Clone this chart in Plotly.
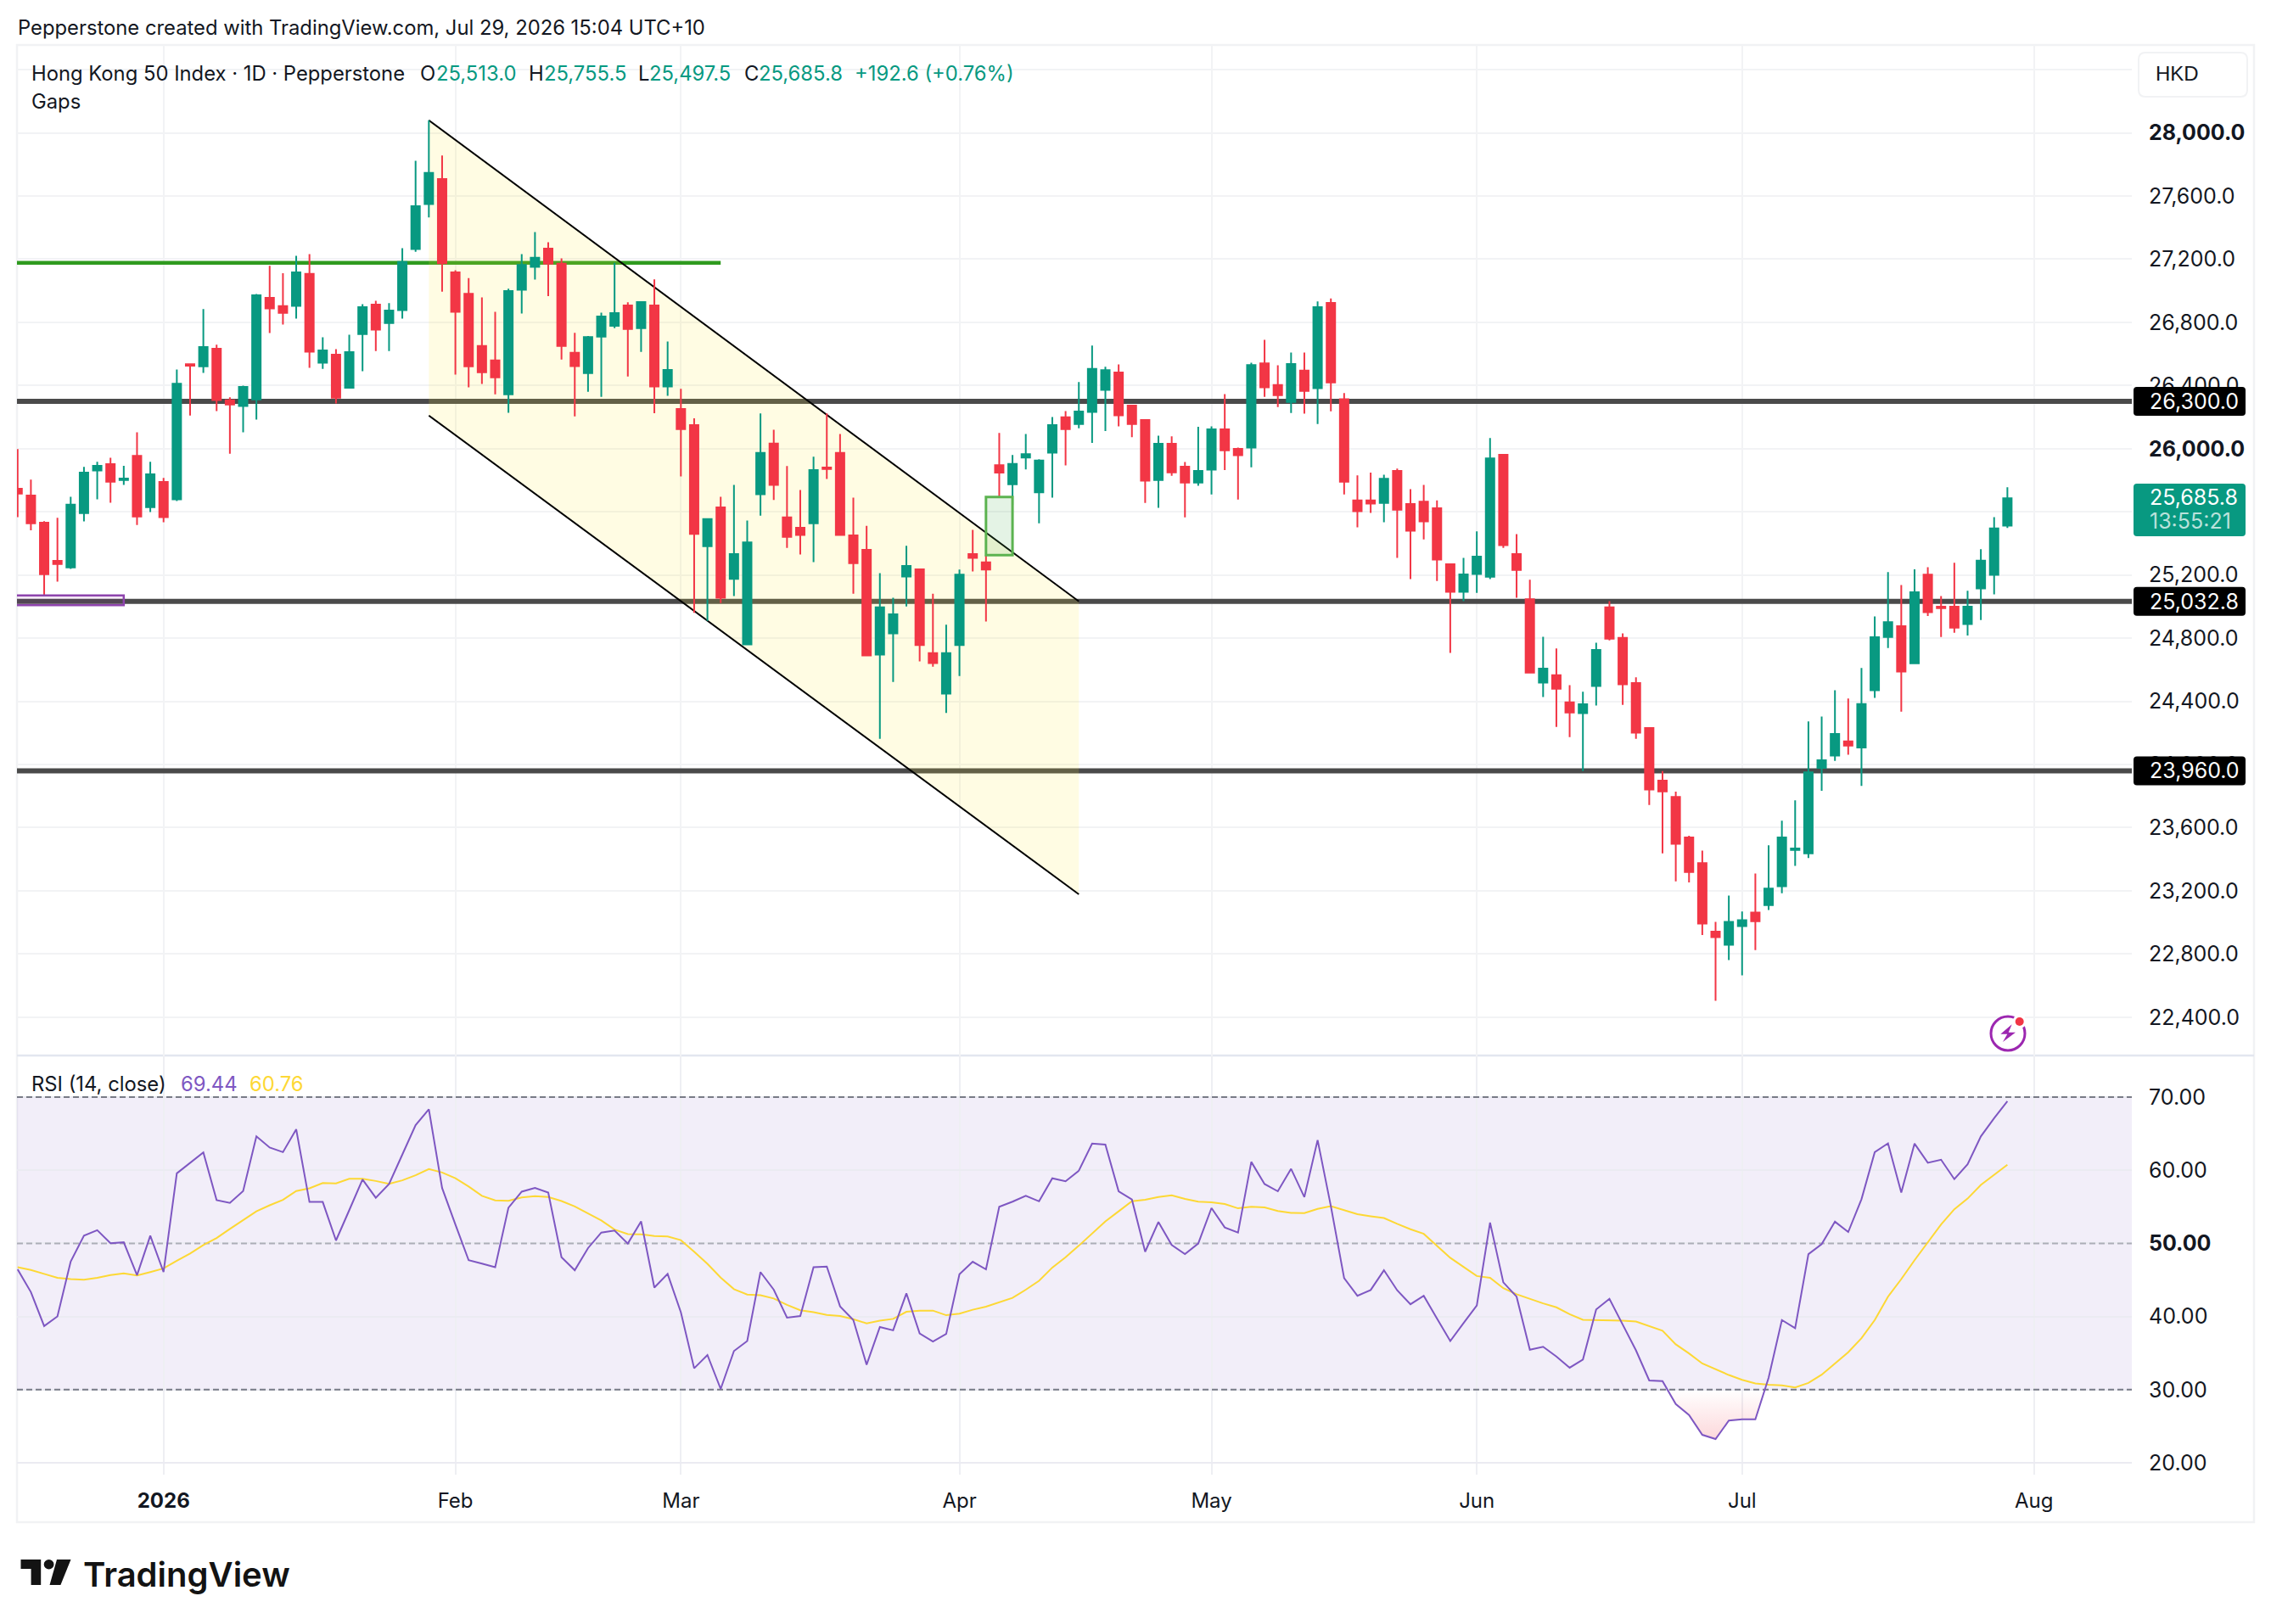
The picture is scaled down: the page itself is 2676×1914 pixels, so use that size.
import plotly.graph_objects as go

# Daily Hong Kong 50 session data, oldest first
opens = [25747,25704,25532,25290,25248,25592,25862,25902,25802,25955,25630,25789,25679,26535,26522,26633,26306,26270,26312,26956,
         26903,26905,27107,26544,26595,26386,26726,26913,26796,26877,27264,27549,27708,27117,26981,26650,26559,26344,27007,27151,
         27267,27172,26607,26479,26710,26778,26907,26764,26907,26394,26251,26150,25383,25628,25175,24760,25712,26032,25565,25499,
         25528,25881,25973,25451,25359,24696,24830,25190,25236,24705,24449,24756,25332,25280,25896,25775,25944,25723,25975,26199,
         26156,26233,26373,26483,26273,26182,25801,26031,25886,25786,25867,26122,25999,26007,26541,26403,26296,26494,26383,26923,
         26313,25672,25672,25657,25859,25650,25665,25623,25268,25094,25206,25189,25961,25332,25047,24518,24565,24393,24325,24497,
         24995,24802,24516,24231,23898,23795,23538,23376,22942,22858,22977,23062,23110,23229,23459,23437,23979,24056,24146,24108,
         24470,24808,24876,24641,25203,24999,24999,24889,25115,25201,25513]
highs = [25998,25804,25541,25562,25696,25885,25917,25942,25891,26104,25917,25815,26501,26535,26884,26658,26325,26399,26979,27158,
         27111,27221,27232,26705,26631,26722,26915,26937,26922,27270,27823,28080,27857,27130,27081,26958,26867,27013,27232,27372,
         27308,27205,26734,26714,26861,27177,26927,26929,27072,26679,26379,26192,25558,25696,25771,25545,26223,26120,25890,25738,
         25949,26223,26093,25690,25512,25212,25056,25385,25236,25082,24885,25234,25486,25326,26100,25960,26093,25933,26201,26238,
         26422,26653,26519,26534,26277,26186,26082,26078,25916,26139,26141,26345,26007,26545,26689,26528,26609,26609,26932,26951,
         26352,25831,25848,25835,25874,25744,25771,25672,25268,25308,25476,26067,25961,25459,25170,24809,24735,24503,24461,24771,
         25034,24830,24552,24236,23959,23828,23549,23455,23003,23170,23069,23310,23488,23644,23773,24273,24304,24470,24418,24611,
         24938,25218,25137,25236,25249,25067,25277,25100,25363,25567,25755.5]
lows = [25566,25483,25073,25158,25239,25539,25679,25658,25770,25517,25598,25534,25668,26210,26480,26238,25968,26104,26185,26733,
        26786,26824,26512,26505,26287,26380,26491,26618,26618,26824,27247,27464,26994,26469,26389,26410,26344,26227,26856,27071,
        26966,26565,26205,26361,26328,26764,26457,26613,26225,26335,25824,24960,24909,25023,25067,24760,25576,25675,25372,25330,
        25282,25808,25453,25082,24690,24163,24523,25001,24653,24620,24326,24560,25223,24905,25692,25644,25868,25528,25690,25894,
        26129,26037,26112,26141,26073,25657,25625,25829,25565,25765,25710,25865,25678,25882,26328,26264,26226,26222,26156,26237,
        25710,25502,25593,25534,25308,25174,25425,25162,24707,25034,25087,25174,25372,25056,24582,24427,24238,24174,23959,24374,
        24786,24378,24163,23744,23437,23260,23253,22920,22503,22762,22665,22825,23078,23185,23358,23407,23834,24023,24062,23865,
        24422,24738,24334,24641,24940,24808,24834,24817,24915,25078,25497.5]
closes = [25715,25528,25205,25269,25645,25849,25891,25791,25811,25571,25838,25566,26412,26525,26644,26308,26280,26391,26971,26888,
          26860,27117,26614,26622,26323,26612,26896,26754,26875,27183,27536,27746,27175,26867,26522,26484,26452,26998,27164,27209,
          27172,26650,26523,26707,26837,26859,26758,26929,26394,26499,26124,25460,25554,25056,25332,25407,25973,25771,25442,25453,
          25865,25872,25453,25275,24690,24995,24951,25258,24756,24642,24705,25203,25308,25234,25848,25903,25966,25925,26150,26124,
          26235,26505,26498,26211,26156,25797,26031,25850,25786,25859,26122,25990,25958,26530,26388,26339,26536,26366,26896,26420,
          25791,25604,25653,25810,25614,25480,25540,25298,25094,25204,25317,25939,25389,25232,24582,24607,24480,24329,24382,24725,
          24797,24508,24201,23841,23830,23497,23319,22992,22907,23003,23014,23007,23214,23538,23468,23950,24027,24194,24119,24383,
          24806,24902,24589,25091,24964,24990,24867,24999,25291,25495,25685.8]

rsi = [46.45,43.34,38.69,40.02,47.53,51.06,51.81,50.02,50.15,45.66,51.06,46.08,59.58,60.99,62.44,55.92,55.55,57.17,64.64,63.11,
       62.48,65.6,55.67,55.67,50.4,54.55,58.75,56.25,58.12,62.15,66.18,68.34,57.58,52.6,47.7,47.24,46.74,54.88,57.08,57.58,
       56.96,48.11,46.33,49.36,51.48,51.77,49.98,53.01,43.96,45.83,40.56,32.92,34.74,30.09,35.28,36.65,46.08,43.67,39.85,40.06,
       46.74,46.83,41.39,39.52,33.41,38.56,38.11,43.17,37.69,36.57,37.61,45.79,47.49,46.45,55.01,55.71,56.5,55.76,58.91,58.5,
       59.95,63.65,63.52,57.13,56,48.86,52.93,49.78,48.53,49.98,54.84,52.18,51.48,61.15,58.12,57.13,60.2,56.34,64.14,55.09,
       45.25,42.84,43.63,46.33,43.59,41.68,42.84,39.73,36.65,39.1,41.51,52.85,44.67,42.72,35.45,35.86,34.54,33,34.12,40.97,
       42.43,38.9,35.37,31.25,31.17,28.02,26.52,23.82,23.24,25.77,25.94,25.94,31.63,39.52,38.4,48.53,49.9,52.97,51.56,56.05,
       62.48,63.69,56.96,63.65,61.03,61.45,58.79,60.82,64.64,67.13,69.44]
rsi_ma = [46.74,46.37,45.83,45.29,45.12,45.04,45.29,45.66,45.91,45.62,46.08,46.58,47.62,48.61,49.78,50.73,51.98,53.22,54.39,55.22,
          55.96,57.17,57.54,58.25,58.21,58.83,58.83,58.54,58.16,58.62,59.33,60.16,59.7,58.91,57.79,56.5,55.88,55.84,56.3,56.46,
          56.34,55.8,55.05,54.1,53.14,51.89,51.27,51.23,51.02,50.94,50.44,48.86,47.2,45.33,43.75,43.01,42.92,42.47,41.59,40.85,
          40.6,40.22,40.06,39.64,39.06,39.44,39.68,40.64,40.81,40.81,40.18,40.39,40.93,41.35,41.93,42.55,43.67,44.88,46.7,48.11,
          49.69,51.35,53.01,54.39,55.76,55.96,56.34,56.59,56.09,55.71,55.63,55.38,54.8,55.01,54.93,54.43,54.18,54.14,54.72,55.09,
          54.55,54.01,53.72,53.47,52.68,51.94,51.31,49.69,48.03,46.79,45.54,45.29,43.88,43.05,42.38,41.8,41.26,40.31,39.56,39.52,
          39.52,39.44,39.31,38.73,38.06,36.2,34.95,33.58,32.75,32,31.34,30.84,30.67,30.59,30.3,30.92,32.04,33.62,35.12,37.03,
          39.52,42.72,45.12,47.7,50.11,52.6,54.68,56.13,58,59.33,60.76]
sessions = list(range(len(closes)))

# Oversold stretch of the RSI, closed along the 30 level
oversold_x = [124.37,125,126,127,128,129,130,131,131.71]
oversold_y = [30,28.02,26.52,23.82,23.24,25.77,25.94,25.94,30]

month_ticks = [11,33,50,71,90,110,130,152]
month_labels = ["<b>2026</b>","Feb","Mar","Apr","May","Jun","Jul","Aug"]
price_ticks = [28400,28000,27600,27200,26800,26400,26000,25600,25200,24800,24400,24000,23600,23200,22800,22400]
price_labels = ["","<b>28,000.0</b>","27,600.0","27,200.0","26,800.0","26,400.0","<b>26,000.0</b>","",
                "25,200.0","24,800.0","24,400.0","24,000.0","23,600.0","23,200.0","22,800.0","22,400.0"]
rsi_ticks = [70,60,50,40,30,20]
rsi_labels = ["70.00","60.00","<b>50.00</b>","40.00","30.00","20.00"]

# Drawn levels and objects, in price and session units
levels = [26300.0,25032.8,23960.0]
resistance_price = 27177
resistance_end = 53
channel_x = [31,80]
channel_upper = [28080,25033]
channel_lower = [26210,23178]
gap_box = dict(x0=73,x1=75,y0=25326,y1=25694)
purple_box = dict(x0=-1,x1=8,y0=25009,y1=25071)

W, H = 2676, 1914
UP, DOWN = "#089981", "#f23645"
INK = "#131722"
FONT = "Inter"
PLOT_L, PLOT_R, FRAME_R = 20, 2512, 2656
MAIN_T, MAIN_B, RSI_B, FRAME_B = 53, 1244, 1738, 1794
X_RANGE = [-0.05, 159.38]
PRICE_RANGE = [22157, 28556.7]
RSI_RANGE = [18.37, 75.7]
AXIS_SIZE = 25


def px(x):
    return x / W


def py(y):
    return 1 - y / H


def price_y(price):
    """Pixel row of a price on the main pane."""
    span = PRICE_RANGE[1] - PRICE_RANGE[0]
    return MAIN_B - (price - PRICE_RANGE[0]) * (MAIN_B - MAIN_T) / span


fig = go.Figure()
fig.add_trace(go.Candlestick(
    x=sessions, open=opens, high=highs, low=lows, close=closes, xaxis="x", yaxis="y",
    increasing=dict(line=dict(color=UP, width=2), fillcolor=UP),
    decreasing=dict(line=dict(color=DOWN, width=2), fillcolor=DOWN),
    whiskerwidth=0, showlegend=False,
))
fig.add_trace(go.Scatter(
    x=oversold_x, y=oversold_y, xaxis="x2", yaxis="y2", mode="lines", line=dict(width=0),
    fill="toself", showlegend=False, hoverinfo="skip",
    fillgradient=dict(type="vertical", start=30, stop=23,
                      colorscale=[[0, "rgba(242,54,69,0)"], [1, "rgba(242,54,69,0.2)"]]),
))
fig.add_trace(go.Scatter(x=sessions, y=rsi_ma, xaxis="x2", yaxis="y2", mode="lines",
                         line=dict(color="#fdd835", width=2), showlegend=False))
fig.add_trace(go.Scatter(x=sessions, y=rsi, xaxis="x2", yaxis="y2", mode="lines",
                         line=dict(color="#7e57c2", width=2), showlegend=False))

shapes = []
# RSI band and its dashed bounds
shapes.append(dict(type="rect", xref="x2", yref="y2", x0=X_RANGE[0], x1=X_RANGE[1], y0=30, y1=70, layer="below",
                   fillcolor="rgba(126,87,194,0.1)", line_width=0))
for level, color in [(70, "#787b86"), (50, "rgba(120,123,134,0.55)"), (30, "#787b86")]:
    shapes.append(dict(type="line", xref="x2", yref="y2", x0=X_RANGE[0], x1=X_RANGE[1], y0=level, y1=level,
                       layer="between", line=dict(color=color, width=2, dash="7px,4px")))
# Horizontal levels and the resistance line
for level in levels:
    shapes.append(dict(type="line", xref="x", yref="y", x0=X_RANGE[0], x1=X_RANGE[1], y0=level, y1=level,
                       layer="between", line=dict(color="#4a4a4a", width=6)))
shapes.append(dict(type="line", xref="x", yref="y", x0=-1, x1=resistance_end, y0=resistance_price, y1=resistance_price,
                   layer="between", line=dict(color="#2f9a1f", width=4.5)))
# Falling channel
shapes.append(dict(type="path", xref="x", yref="y", layer="between", line_width=0,
                   fillcolor="rgba(255,235,59,0.14)",
                   path=f"M{channel_x[0]},{channel_upper[0]} L{channel_x[1]},{channel_upper[1]} "
                        f"L{channel_x[1]},{channel_lower[1]} L{channel_x[0]},{channel_lower[0]} Z"))
for edge in (channel_upper, channel_lower):
    shapes.append(dict(type="line", xref="x", yref="y", x0=channel_x[0], x1=channel_x[1], y0=edge[0], y1=edge[1],
                       layer="between", line=dict(color="#000000", width=2)))
# Boxes marking the price gaps
shapes.append(dict(type="rect", xref="x", yref="y", layer="above", fillcolor="rgba(76,175,80,0.15)",
                   line=dict(color="#5cb350", width=3), **gap_box))
shapes.append(dict(type="rect", xref="x", yref="y", layer="above", fillcolor="rgba(156,39,176,0.1)",
                   line=dict(color="#8e44ad", width=2.5), **purple_box))


def rounded_path(x0, y0, x1, y1, r):
    X0, X1, Y0, Y1, rx, ry = px(x0), px(x1), py(y0), py(y1), r / W, r / H
    return (f"M{X0+rx},{Y0} L{X1-rx},{Y0} Q{X1},{Y0} {X1},{Y0-ry} L{X1},{Y1+ry} Q{X1},{Y1} {X1-rx},{Y1} "
            f"L{X0+rx},{Y1} Q{X0},{Y1} {X0},{Y1+ry} L{X0},{Y0-ry} Q{X0},{Y0} {X0+rx},{Y0} Z")


def rounded(x0, y0, x1, y1, r, fill):
    return dict(type="path", xref="paper", yref="paper", layer="above", fillcolor=fill, line_width=0,
                path=rounded_path(x0, y0, x1, y1, r))


# Pane frame and divider
shapes.append(dict(type="rect", xref="paper", yref="paper", x0=px(PLOT_L), x1=px(FRAME_R), y0=py(MAIN_T), y1=py(FRAME_B),
                   line=dict(color="#f1f2f4", width=2.5), layer="below"))
shapes.append(dict(type="line", xref="paper", yref="paper", x0=px(PLOT_L), x1=px(FRAME_R), y0=py(MAIN_B), y1=py(MAIN_B),
                   line=dict(color="#e3e6ef", width=2.5), layer="below"))
# Currency button
shapes.append(dict(type="path", xref="paper", yref="paper", layer="above", fillcolor="#ffffff",
                   line=dict(color="#f1f2f4", width=2), path=rounded_path(2520, 62, 2648, 114, 8)))

annotations = []


def label(x, y, text, size=23.8, color=INK, anchor="left", weight=None, family=FONT):
    font = dict(family=family, size=size, color=color)
    if weight:
        font["weight"] = weight
    annotations.append(dict(xref="paper", yref="paper", x=px(x), y=py(y), text=text, showarrow=False,
                            xanchor=anchor, yanchor="middle", borderpad=0, font=font))


# Price badges on the scale
for level in levels:
    yc = price_y(level)
    shapes.append(rounded(2514, yc - 17, 2646, yc + 17, 4, "#000000"))
    label(2531.7, yc, f"{level:,.1f}", size=AXIS_SIZE, color="#ffffff")
shapes.append(rounded(2514, 570, 2646, 632, 4, UP))
label(2531.7, 586, f"{closes[-1]:,.1f}", size=AXIS_SIZE, color="#ffffff")
label(2531.7, 613.5, "13:55:21", size=AXIS_SIZE, color="rgba(255,255,255,0.72)")

# Headers
label(20, 32, "Pepperstone created with TradingView.com, Jul 29, 2026 15:04 UTC+10")
label(36, 86.7, "Hong Kong 50 Index · 1D · Pepperstone")
for x, text, color in [(494, "O", INK), (513, "25,513.0", UP), (622, "H", INK), (639.5, "25,755.5", UP),
                       (751, "L", INK), (764, "25,497.5", UP), (875.6, "C", INK), (893, "25,685.8", UP),
                       (1006, "+192.6 (+0.76%)", UP)]:
    label(x, 86.7, text, color=color)
label(36, 120, "Gaps")
label(36, 1277, "RSI (14, close)")
label(212, 1277, "69.44", color="#7e57c2")
label(293, 1277, "60.76", color="#fdd835")
label(2539, 87, "HKD", size=24, color="#131722", family="Liberation Sans")

# Alert badge near the latest session
ring_x, ring_y, ring_r = 2366, 1218, 20
shapes.append(dict(type="circle", xref="paper", yref="paper", layer="above", fillcolor="#ffffff",
                   x0=px(ring_x - ring_r), x1=px(ring_x + ring_r), y0=py(ring_y + ring_r), y1=py(ring_y - ring_r),
                   line=dict(color="#9c27b0", width=3)))
bolt = [(2370.7, 1207.3), (2357.3, 1218.7), (2365.3, 1218.7), (2360, 1228), (2375, 1216.7), (2366.7, 1216.7)]
shapes.append(dict(type="path", xref="paper", yref="paper", layer="above", fillcolor="#9c27b0", line_width=0,
                   path="M" + " L".join(f"{px(x)},{py(y)}" for x, y in bolt) + " Z"))
shapes.append(dict(type="circle", xref="paper", yref="paper", layer="above", fillcolor="#ffffff", line_width=0,
                   x0=px(2379.7 - 8), x1=px(2379.7 + 8), y0=py(1204 + 8), y1=py(1204 - 8)))
shapes.append(dict(type="circle", xref="paper", yref="paper", layer="above", fillcolor="#f23645", line_width=0,
                   x0=px(2379.7 - 5), x1=px(2379.7 + 5), y0=py(1204 + 5), y1=py(1204 - 5)))

# TradingView mark
logo_bar = [(24.5, 1838), (48.2, 1838), (48.2, 1868), (36.6, 1868), (36.6, 1849), (24.5, 1849)]
logo_slash = [(67, 1838), (83.5, 1838), (71.4, 1868), (58.5, 1868)]
for poly in (logo_bar, logo_slash):
    shapes.append(dict(type="path", xref="paper", yref="paper", layer="above", fillcolor="#131313", line_width=0,
                       path="M" + " L".join(f"{px(x)},{py(y)}" for x, y in poly) + " Z"))
shapes.append(dict(type="circle", xref="paper", yref="paper", layer="above", fillcolor="#131313", line_width=0,
                   x0=px(51.7), x1=px(63.5), y0=py(1849.5), y1=py(1838)))
label(97, 1855, "TradingView", size=40, color="#131313", weight=600)

grid = "#f2f3f5"
fig.update_layout(
    width=W, height=H, autosize=False, margin=dict(l=0, r=0, t=0, b=0),
    paper_bgcolor="#ffffff", plot_bgcolor="#ffffff", showlegend=False,
    boxgap=0.36, boxgroupgap=0,
    shapes=shapes, annotations=annotations,
    font=dict(family=FONT, size=24, color=INK),
    xaxis=dict(domain=[px(PLOT_L), px(PLOT_R)], anchor="y", range=X_RANGE, rangeslider=dict(visible=False),
               tickmode="array", tickvals=month_ticks, ticktext=[""] * len(month_ticks), showgrid=True,
               gridcolor=grid, gridwidth=2, zeroline=False, showline=False, ticks=""),
    yaxis=dict(domain=[py(MAIN_B), py(MAIN_T)], anchor="x", side="right", range=PRICE_RANGE,
               tickmode="array", tickvals=price_ticks, ticktext=price_labels, showgrid=True, gridcolor=grid,
               gridwidth=2, zeroline=False, showline=False, ticks="", ticklabelstandoff=19,
               tickfont=dict(family=FONT, size=AXIS_SIZE, color=INK)),
    xaxis2=dict(domain=[px(PLOT_L), px(PLOT_R)], anchor="y2", matches="x", range=X_RANGE,
                tickmode="array", tickvals=month_ticks, ticktext=month_labels, showgrid=True, gridcolor="#eeeff3",
                gridwidth=2, zeroline=False, showline=False, ticks="", ticklabelstandoff=14,
                tickangle=0, tickfont=dict(family=FONT, size=24, color=INK)),
    yaxis2=dict(domain=[py(RSI_B), py(MAIN_B)], anchor="x2", side="right", range=RSI_RANGE,
                tickmode="array", tickvals=rsi_ticks, ticktext=rsi_labels, showgrid=True, gridcolor="#ebebf2",
                gridwidth=2, zeroline=False, showline=False, ticks="", ticklabelstandoff=19,
                tickfont=dict(family=FONT, size=AXIS_SIZE, color=INK)),
)

fig.write_html("out.html")
